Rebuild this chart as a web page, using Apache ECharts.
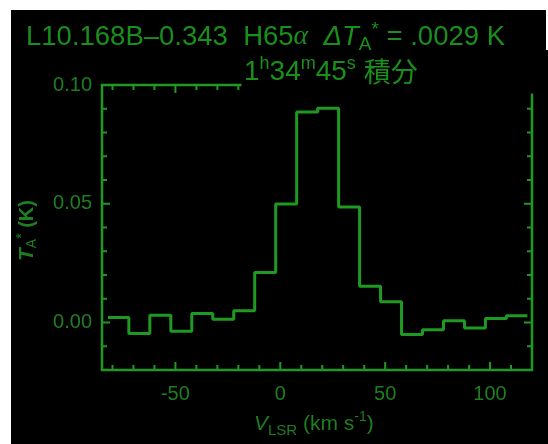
<!DOCTYPE html>
<html>
<head>
<meta charset="utf-8">
<script src="https://cdn.jsdelivr.net/npm/echarts@6/dist/echarts.min.js"></script>
<style>
  html, body { margin: 0; padding: 0; background: #fff; }
  #wrap { position: relative; width: 548px; height: 444px; overflow: hidden; background: #fff; }
  #bg1 { position: absolute; left: 11px; top: 10px; width: 535px; height: 434px; background: #000; }
  #bg2 { position: absolute; left: 546px; top: 55px; width: 2px; height: 389px; background: #000; }
  #chart { position: absolute; left: 0; top: 0; width: 548px; height: 444px; }
</style>
</head>
<body>
<div id="wrap">
  <div id="bg1"></div>
  <div id="bg2"></div>
  <div id="chart"></div>
</div>
<script>
// H65α recombination line spectrum, L10.168 B−0.343
// Channel centre velocities (km/s) and antenna temperatures (K)
const channelWidth = 10;
const channelCenters = [-77.2, -67.2, -57.2, -47.2, -37.2, -27.2, -17.2, -7.2, 2.8, 12.8,
                        22.8, 32.8, 42.8, 52.8, 62.8, 72.8, 82.8, 92.8, 102.8, 112.8];
const antennaTemp = [0.0021, -0.0046, 0.0031, -0.0037, 0.0038, 0.0014, 0.0049, 0.0211, 0.0499, 0.0886,
                     0.0902, 0.0486, 0.0153, 0.0087, -0.0051, -0.0030, 0.0007, -0.0023, 0.0017, 0.0028];

// Axis ranges and ticks
const xRange = [-85, 120];
const yRange = [-0.02, 0.10];
const xMajorTicks = [-50, 0, 50, 100];
const xMinorTicks = [-80, -70, -60, -40, -30, -20, -10, 10, 20, 30, 40, 60, 70, 80, 90, 110];
const yMajorTicks = [0, 0.05, 0.10];
const yMinorTicks = [-0.01, 0.01, 0.02, 0.03, 0.04, 0.06, 0.07, 0.08, 0.09];

const GREEN = '#1e9a22';
const TEXT_GREEN = '#19901c';
const LABEL_GREEN = '#1d7f20';
const MAJOR_LEN = 8, MINOR_LEN = 5;

// Histogram-style step: one point at the left edge of each channel, plus the final right edge
const stepData = channelCenters.map((c, i) => [c - channelWidth / 2, antennaTemp[i]]);
stepData.push([channelCenters[channelCenters.length - 1] + channelWidth / 2,
               antennaTemp[antennaTemp.length - 1]]);

// inward ticks on bottom and top frame edges
function renderXTick(params, api) {
  const v = api.value(0);
  const len = xMajorTicks.includes(v) ? MAJOR_LEN : MINOR_LEN;
  const b = api.coord([v, yRange[0]]);
  const t = api.coord([v, yRange[1]]);
  return { type: 'group', children: [
    { type: 'line', shape: { x1: b[0], y1: b[1], x2: b[0], y2: b[1] - len }, style: { stroke: GREEN, lineWidth: 2 } },
    { type: 'line', shape: { x1: t[0], y1: t[1], x2: t[0], y2: t[1] + len }, style: { stroke: GREEN, lineWidth: 2 } }
  ] };
}
// inward ticks on left and right frame edges
function renderYTick(params, api) {
  const v = api.value(1);
  const len = yMajorTicks.includes(v) ? MAJOR_LEN : MINOR_LEN;
  const l = api.coord([xRange[0], v]);
  const r = api.coord([xRange[1], v]);
  return { type: 'group', children: [
    { type: 'line', shape: { x1: l[0], y1: l[1], x2: l[0] + len, y2: l[1] }, style: { stroke: GREEN, lineWidth: 2 } },
    { type: 'line', shape: { x1: r[0], y1: r[1], x2: r[0] - len, y2: r[1] }, style: { stroke: GREEN, lineWidth: 2 } }
  ] };
}

const chart = echarts.init(document.getElementById('chart'), null, { renderer: 'canvas' });
chart.setOption({
  backgroundColor: 'transparent',
  animation: false,
  grid: { left: 102, top: 85, right: 16, bottom: 74, outerBoundsMode: 'none',
          show: true, borderColor: GREEN, borderWidth: 2.5, backgroundColor: 'transparent' },
  xAxis: {
    type: 'value', min: xRange[0], max: xRange[1],
    axisLine: { show: false },
    axisTick: { show: false },
    axisLabel: { customValues: xMajorTicks, margin: 14,
                 color: LABEL_GREEN, fontSize: 20, fontFamily: 'Liberation Sans' },
    splitLine: { show: false }
  },
  yAxis: {
    type: 'value', min: yRange[0], max: yRange[1],
    axisLine: { show: false },
    axisTick: { show: false },
    axisLabel: { customValues: yMajorTicks, margin: 10, padding: [0, 0, 11, 0],
                 formatter: v => v.toFixed(2),
                 color: LABEL_GREEN, fontSize: 20, fontFamily: 'Liberation Sans' },
    splitLine: { show: false }
  },
  series: [
    { type: 'custom', renderItem: renderXTick, silent: true, clip: false,
      data: xMajorTicks.concat(xMinorTicks).map(v => [v, 0]) },
    { type: 'custom', renderItem: renderYTick, silent: true, clip: false,
      data: yMajorTicks.concat(yMinorTicks).map(v => [0, v]) },
    { type: 'line', step: 'end', data: stepData, showSymbol: false, clip: true,
      lineStyle: { color: GREEN, width: 3 } }
  ],
  graphic: [
    // panel behind the second title line
    { type: 'rect', z: 100, shape: { x: 241.5, y: 50, width: 310, height: 43.5 },
      style: { fill: '#000' } },
    { type: 'text', z: 101, x: 26, y: 20,
      style: {
        text: '{m|L10.168B–0.343  H65}{g|α}{m|  }{i|ΔT}{sb|A}{sp|*}{m| = .0029 K}',
        fill: TEXT_GREEN,
        rich: {
          m: { fontSize: 27.5, fontFamily: 'Liberation Sans', lineHeight: 34, fill: TEXT_GREEN },
          g: { fontSize: 28, fontFamily: 'Liberation Serif', fontStyle: 'italic', lineHeight: 34, fill: TEXT_GREEN },
          i: { fontSize: 27.5, fontFamily: 'Liberation Sans', fontStyle: 'italic', lineHeight: 34, fill: TEXT_GREEN },
          sb: { fontSize: 19, fontFamily: 'Liberation Sans', lineHeight: 8, verticalAlign: 'bottom', fill: TEXT_GREEN },
          sp: { fontSize: 19, fontFamily: 'Liberation Sans', lineHeight: 24, verticalAlign: 'top', fill: TEXT_GREEN }
        }
      } },
    { type: 'text', z: 101, x: 244, y: 55,
      style: {
        text: '{m|1}{sp|h}{m|34}{sp|m}{m|45}{sp|s}{m| }{c|積分}',
        fill: TEXT_GREEN,
        rich: {
          m: { fontSize: 28, fontFamily: 'Liberation Sans', lineHeight: 34, fill: TEXT_GREEN },
          sp: { fontSize: 18, fontFamily: 'Liberation Sans', lineHeight: 20, verticalAlign: 'top', fill: TEXT_GREEN },
          c: { fontSize: 27, fontFamily: 'Noto Sans CJK JP', lineHeight: 34, fill: TEXT_GREEN }
        }
      } },
    // x-axis name
    { type: 'text', z: 101, x: 254, y: 410,
      style: {
        text: '{v|V}{sb|LSR}{m| (km s}{sp|-1}{m|)}',
        fill: LABEL_GREEN,
        rich: {
          v: { fontSize: 21, fontFamily: 'Liberation Sans', fontStyle: 'italic', lineHeight: 28, fill: LABEL_GREEN },
          m: { fontSize: 21, fontFamily: 'Liberation Sans', lineHeight: 28, fill: LABEL_GREEN },
          sb: { fontSize: 15, fontFamily: 'Liberation Sans', lineHeight: -8, verticalAlign: 'bottom', fill: LABEL_GREEN },
          sp: { fontSize: 14, fontFamily: 'Liberation Sans', lineHeight: 18, verticalAlign: 'top', fill: LABEL_GREEN }
        }
      } },
    // y-axis name (rotated)
    { type: 'text', z: 101, x: 15, y: 261, rotation: Math.PI / 2,
      style: {
        text: '{t|T}{sb|A}{sp|*}{m| (K)}',
        fill: LABEL_GREEN,
        rich: {
          t: { fontSize: 21, fontFamily: 'Liberation Sans', fontStyle: 'italic', fontWeight: 'bold', lineHeight: 24, fill: LABEL_GREEN },
          m: { fontSize: 20, fontFamily: 'Liberation Sans', fontWeight: 'bold', lineHeight: 24, fill: LABEL_GREEN },
          sb: { fontSize: 14, fontFamily: 'Liberation Sans', lineHeight: -6, verticalAlign: 'bottom', fill: LABEL_GREEN },
          sp: { fontSize: 14, fontFamily: 'Liberation Sans', lineHeight: 14, verticalAlign: 'top', fill: LABEL_GREEN }
        }
      } }
  ]
});
</script>
</body>
</html>
